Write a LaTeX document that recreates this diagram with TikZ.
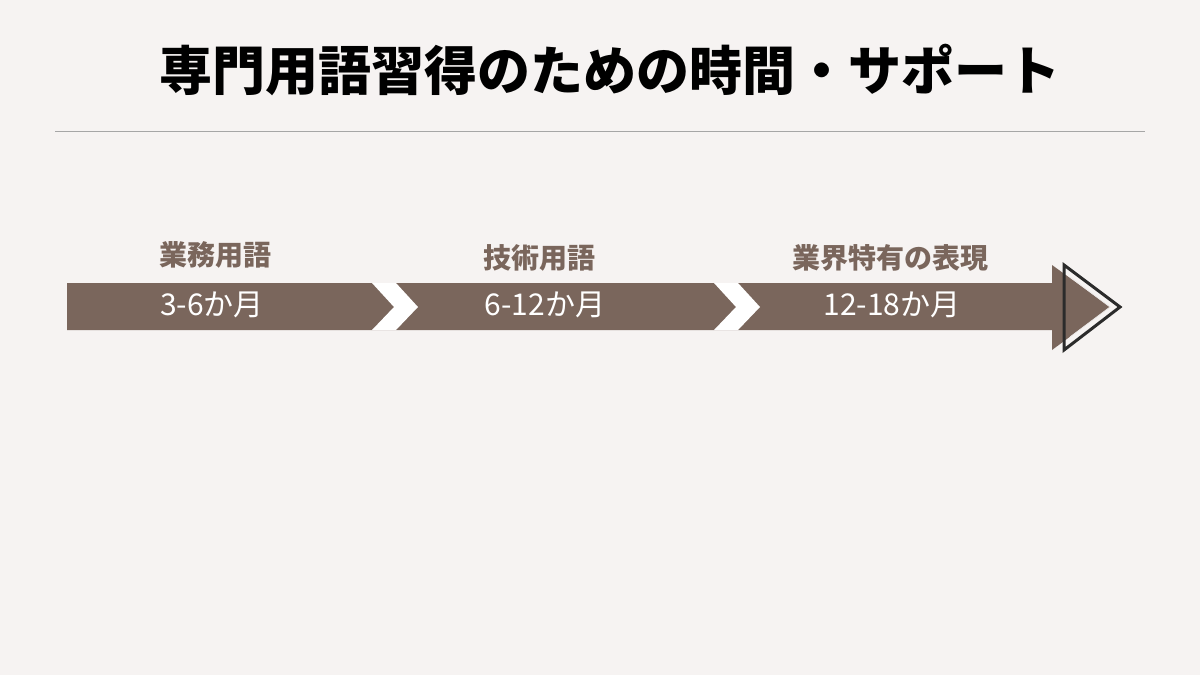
\documentclass[tikz,border=0pt]{standalone}
\usepackage{fontspec}
\setmainfont{Noto Sans CJK JP}
\usetikzlibrary{positioning}
\definecolor{brn}{HTML}{7A665C}
\definecolor{bgc}{HTML}{F6F3F2}
\definecolor{dk}{HTML}{2B2B2B}
\begin{document}
\begin{tikzpicture}
[x=1pt,y=-1pt]
\tikzstyle{stage}=[text=brn,font=\fontsize{28}{32}\selectfont\bfseries]
\tikzstyle{span}=[text=white,font=\fontsize{30}{34}\selectfont]

\fill [bgc] (0,0) rectangle (1200,675);
\node [font=\fontsize{53}{60}\selectfont\bfseries] (title) at (610,70) {専門用語習得のための時間・サポート};
\coordinate (rl) at (55,131);
\coordinate (rr) at (1145,131);
\draw [gray!70,line width=0.6pt] (rl) -- (rr);

% arrow body and heads
\fill [brn] (67,283) -- (1052,283) -- (1052,265) -- (1110,307) -- (1052,350) -- (1052,330) -- (67,330) -- cycle;
\draw [dk,line width=3pt,line join=miter] (1064,265) -- (1120,307) -- (1064,350) -- cycle;
\draw [white!85!brn,line width=0.8pt] (1070,277) -- (1110,307) -- (1070,337);

% chevrons
\foreach \cx in {372,714}
  \fill [white] (\cx,283) -- (\cx+24,283) -- (\cx+46,307) -- (\cx+24,330) -- (\cx,330) -- (\cx+22,307) -- cycle;

\node [stage] (s1) at (215,255) {業務用語};
\node [stage] (s2) at (539,258) {技術用語};
\node [stage] (s3) at (890,258) {業界特有の表現};
\node [span] (p1) at (212,305) {3-6か月};
\node [span] (p2) at (545,305) {6-12か月};
\node [span] (p3) at (892,305) {12-18か月};
\end{tikzpicture}
\end{document}
